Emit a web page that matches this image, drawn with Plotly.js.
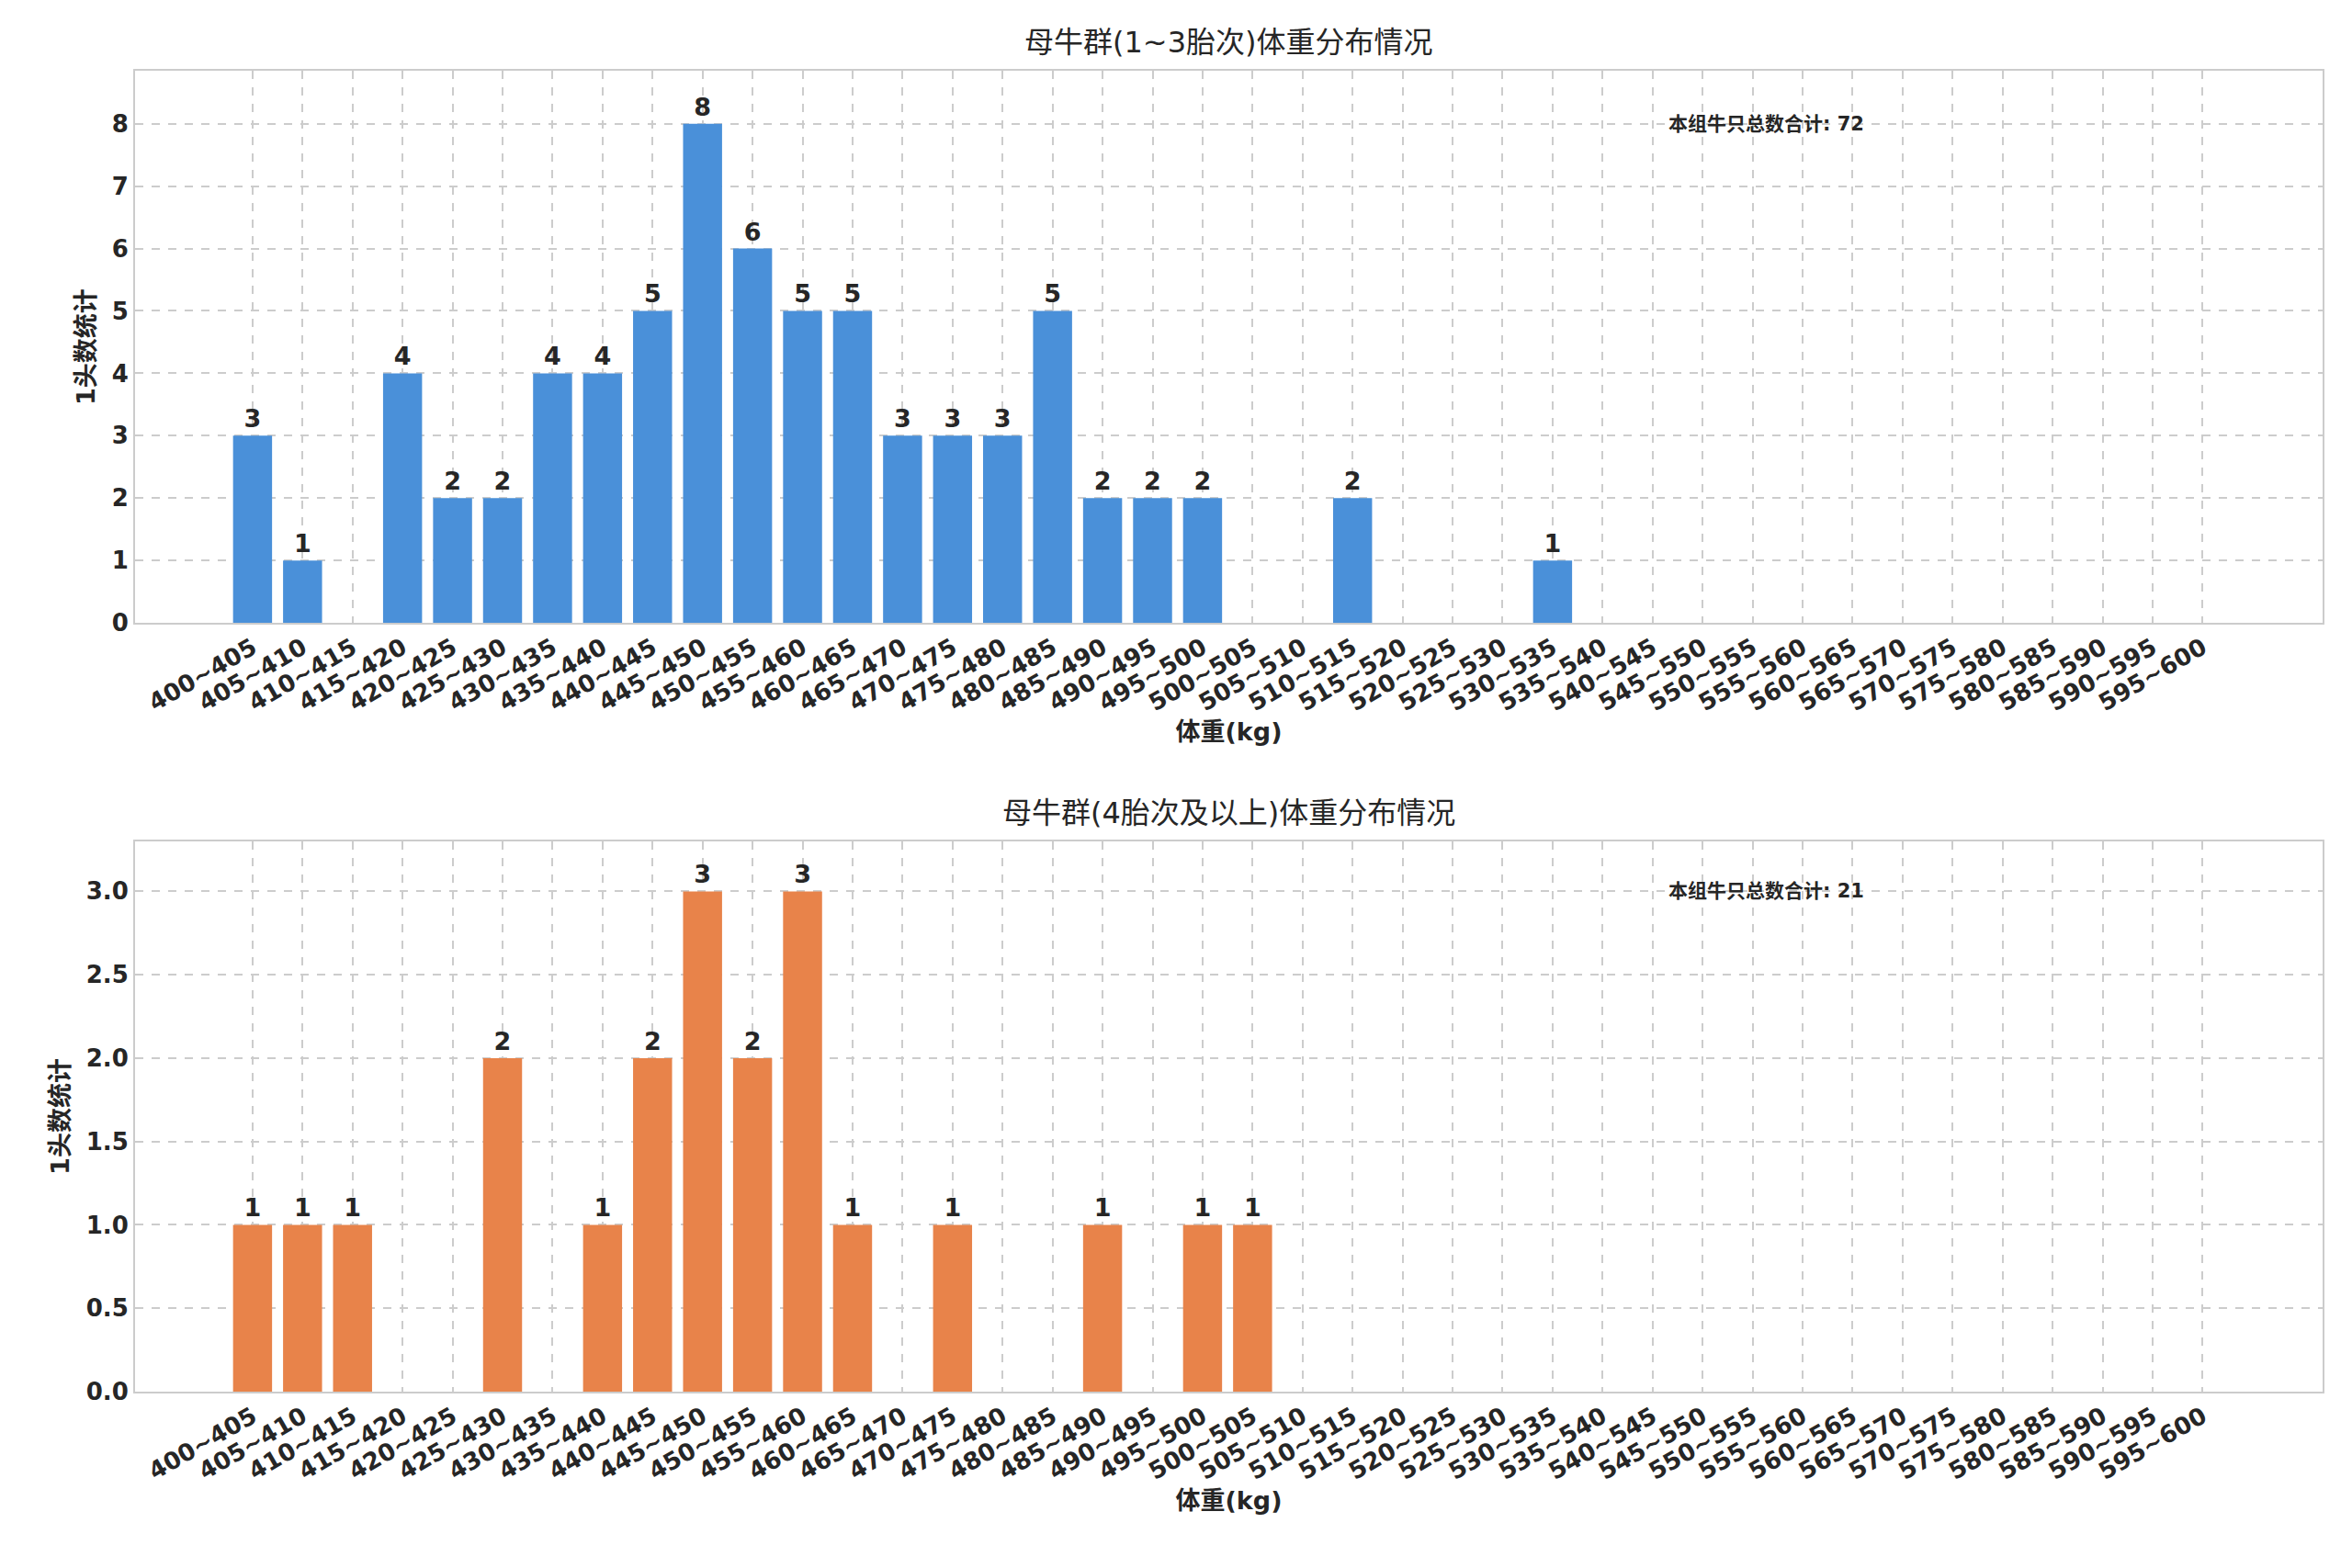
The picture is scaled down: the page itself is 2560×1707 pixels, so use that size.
<!DOCTYPE html>
<html>
<head>
<meta charset="utf-8">
<script src="https://cdn.plot.ly/plotly-3.0.0.min.js"></script>
<style>body{margin:0;background:#fff}</style>
</head>
<body>
<div id="tgtDraw" style="width:2560px;height:1707px"></div>
<script>
// weight bins 400~600, step 5
var bins = [];
for (var w = 400; w < 600; w += 5) bins.push(w + "~" + (w + 5));

var counts_young = [3,1,0,4,2,2,4,4,5,8,6,5,5,3,3,3,5,2,2,2,0,0,2,0,0,0,1,0,0,0,0,0,0,0,0,0,0,0,0,0];
var counts_old   = [1,1,1,0,0,2,0,1,2,3,2,3,1,0,1,0,0,1,0,1,1,0,0,0,0,0,0,0,0,0,0,0,0,0,0,0,0,0,0,0];

var title_young = "母牛群(1~3胎次)体重分布情况";
var title_old = "母牛群(4胎次及以上)体重分布情况";
var total_young = counts_young.reduce(function(a,b){return a+b;},0);
var total_old = counts_old.reduce(function(a,b){return a+b;},0);

var fam = "DejaVu Sans, Noto Sans CJK SC, sans-serif";
var dark = "#262626";

function lbl(arr) { return arr.map(function(v){ return v ? String(v) : ""; }); }

var trace1 = {
	x: bins, y: counts_young, type: 'bar', marker: {color: '#4a90d9'}, width: 0.78,
	text: lbl(counts_young), textposition: 'outside', cliponaxis: false,
	textfont: {family: fam, size: 27, color: dark, weight: 'bold'},
	xaxis: 'x', yaxis: 'y'
};
var trace2 = {
	x: bins, y: counts_old, type: 'bar', marker: {color: '#e8834a'}, width: 0.78,
	text: lbl(counts_old), textposition: 'outside', cliponaxis: false,
	textfont: {family: fam, size: 27, color: dark, weight: 'bold'},
	xaxis: 'x2', yaxis: 'y2'
};

function xax(anchor) {
	return {
		anchor: anchor, type: 'category', range: [-2.35, 41.4], tickangle: -30,
		tickfont: {family: fam, size: 26, color: dark, weight: 'bold'},
		showgrid: true, gridcolor: '#cccccc', griddash: 'dash', gridwidth: 2,
		showline: true, linecolor: '#cccccc', linewidth: 2, mirror: true, ticks: '',
		title: {text: "体重(kg)", font: {family: fam, size: 27, color: dark, weight: 'bold'}, standoff: 8}
	};
}
function yax(anchor, dom, rng, dt, fmt) {
	return {
		anchor: anchor, domain: dom, range: rng, dtick: dt, tickformat: fmt,
		tickfont: {family: fam, size: 26, color: dark, weight: 'bold'},
		showgrid: true, gridcolor: '#cccccc', griddash: 'dash', gridwidth: 2, zeroline: false,
		showline: true, linecolor: '#cccccc', linewidth: 2, mirror: true, ticks: '',
		title: {text: "1头数统计", font: {family: fam, size: 27, color: dark, weight: 'bold'}, standoff: 10}
	};
}

var layout = {
	width: 2560, height: 1707, showlegend: false, bargap: 0.2,
	paper_bgcolor: '#fff', plot_bgcolor: '#fff',
	margin: {l: 147, r: 32, t: 77, b: 192},
	xaxis: xax('y'), yaxis: yax('x', [0.582, 1], [0, 8.85], 1, 'd'),
	xaxis2: xax('y2'), yaxis2: yax('x2', [0, 0.4166], [0, 3.3], 0.5, '.1f'),
	annotations: [
		{text: title_young, xref: 'paper', yref: 'paper', x: 0.5, y: 1, yshift: 10, yanchor: 'bottom', showarrow: false,
		 font: {family: fam, size: 32, color: dark}},
		{text: title_old, xref: 'paper', yref: 'paper', x: 0.5, y: 0.4166, yshift: 10, yanchor: 'bottom', showarrow: false,
		 font: {family: fam, size: 32, color: dark}},
		{text: "本组牛只总数合计: " + total_young, xref: 'x domain', yref: 'y', x: 0.70, y: 8, xanchor: 'left', showarrow: false,
		 font: {family: fam, size: 21, color: dark, weight: 'bold'}},
		{text: "本组牛只总数合计: " + total_old, xref: 'x2 domain', yref: 'y2', x: 0.70, y: 3.0, xanchor: 'left', showarrow: false,
		 font: {family: fam, size: 21, color: dark, weight: 'bold'}}
	]
};

Plotly.newPlot('tgtDraw', [trace1, trace2], layout, {displayModeBar: false});
</script>
</body>
</html>
